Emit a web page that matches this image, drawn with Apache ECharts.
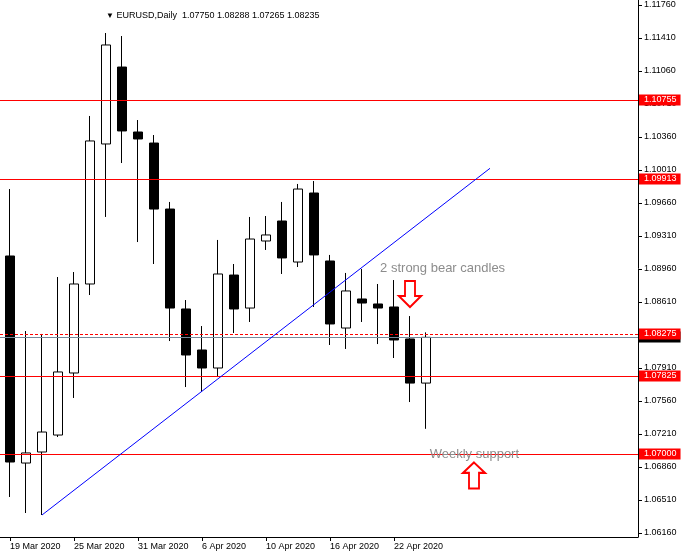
<!DOCTYPE html>
<html><head><meta charset="utf-8">
<script src="https://cdn.jsdelivr.net/npm/echarts@6/dist/echarts.min.js"></script>
<style>html,body{margin:0;padding:0;background:#fff}#c{width:683px;height:556px}</style>
</head><body><div id="c"></div>
<script>
const dates = ['19 Mar 2020','20 Mar 2020','23 Mar 2020','24 Mar 2020','25 Mar 2020','26 Mar 2020','27 Mar 2020',
  '30 Mar 2020','31 Mar 2020','1 Apr 2020','2 Apr 2020','3 Apr 2020','6 Apr 2020','7 Apr 2020','8 Apr 2020',
  '9 Apr 2020','10 Apr 2020','13 Apr 2020','14 Apr 2020','15 Apr 2020','16 Apr 2020','17 Apr 2020',
  '20 Apr 2020','21 Apr 2020','22 Apr 2020','23 Apr 2020','24 Apr 2020'];
const opens  = [1.09098,1.06902,1.07019,1.07199,1.07857,1.08801,1.10286,1.11102,1.10413,1.10296,1.09596,1.08536,1.08101,1.07910,1.08896,1.08546,1.09257,1.09469,1.09034,1.09766,1.09045,1.08334,1.08642,1.08589,1.08557,1.08218,1.07750];
const highs  = [1.09808,1.08302,1.08271,1.08875,1.08928,1.10583,1.11463,1.11431,1.10540,1.10381,1.09671,1.08631,1.08355,1.09268,1.09013,1.09512,1.09522,1.09671,1.09862,1.09893,1.09109,1.08918,1.08960,1.08801,1.08843,1.08461,1.08288];
const lows   = [1.06542,1.06372,1.06351,1.07178,1.07592,1.08684,1.09512,1.10084,1.09246,1.09013,1.08196,1.07708,1.07655,1.07814,1.08281,1.08398,1.09162,1.08907,1.08981,1.08557,1.08154,1.08112,1.08398,1.08164,1.08016,1.07549,1.07265];
const closes = [1.06913,1.07009,1.07231,1.07868,1.08801,1.10318,1.11336,1.10424,1.10339,1.09596,1.08546,1.08048,1.07910,1.08907,1.08536,1.09278,1.09321,1.09077,1.09808,1.09109,1.08377,1.08727,1.08599,1.08546,1.08207,1.07750,1.08235];
const priceTicks = [1.06160,1.06510,1.06860,1.07210,1.07560,1.07910,1.08260,1.08610,1.08960,1.09310,1.09660,1.10010,1.10360,1.10710,1.11060,1.11410,1.11760];
const dateTickIdx = [0,4,8,12,16,20,24];
const levels = [1.10755, 1.09913, 1.07825, 1.07000];
const dashedLevel = 1.08275;
const trendX = [2, 30];
const trendY = [1.06351, 1.10028];
const noteTexts = ['2 strong bear candles', 'Weekly support'];
const noteX = [23.1, 26.2];
const noteY = [1.0897, 1.0699];
const arrowDirs = ['down', 'up'];
const arrowX = [25, 29];
const arrowY = [1.08695, 1.0677];

const FONT = 'Liberation Sans';
const last = dates.length - 1;
const bid = closes[last];
const f5 = v => Number(v).toFixed(5);

const candles = dates.map((d, i) => [i, opens[i], closes[i], lows[i], highs[i]]);

const chart = echarts.init(document.getElementById('c'), null, {renderer: 'canvas'});

const lblStyle = (bg, v) => ({
  show: true, position: 'end', distance: 1, formatter: f5(v),
  color: '#fff', backgroundColor: bg, fontFamily: FONT, fontSize: 9,
  lineHeight: 11, padding: [0, 4, 0, 5]
});

// snap a price to a whole pixel row so the 1px level lines stay crisp
function snap(v) {
  const py = chart.convertToPixel({yAxisIndex: 0}, v);
  if (!isFinite(py)) return v;
  return chart.convertFromPixel({yAxisIndex: 0}, Math.round(py));
}

function levelLines(doSnap) {
  const s = v => doSnap ? snap(v) : v;
  return [
    {yAxis: s(bid), lineStyle: {color: '#778899', type: 'solid', width: 1}, label: lblStyle('#000', bid)},
    ...levels.map(v => ({yAxis: s(v), lineStyle: {color: '#ff0000', type: 'solid', width: 1}, label: lblStyle('#ff0000', v)})),
    {yAxis: s(dashedLevel), lineStyle: {color: '#ff0000', type: [3, 2], width: 1}, label: lblStyle('#ff0000', dashedLevel)}
  ];
}

const arrowPaths = {
  down: 'path://M6,0 L16,0 L16,15 L22,15 L11,26 L0,15 L6,15 Z',
  up: 'path://M11,0 L22,10 L16,10 L16,25 L6,25 L6,10 L0,10 Z'
};

const markPoints = [
  ...noteTexts.map((t, i) => ({
    coord: [noteX[i], noteY[i]], symbol: 'circle', symbolSize: 1,
    itemStyle: {color: 'rgba(0,0,0,0)'},
    label: {show: true, position: 'right', distance: 0, formatter: t, color: '#8c8c8c',
      fontFamily: FONT, fontSize: 13}
  })),
  ...arrowDirs.map((d, i) => ({
    coord: [arrowX[i], arrowY[i]], symbol: arrowPaths[d], symbolSize: [22, 26],
    itemStyle: {color: '#fff', borderColor: '#ff0000', borderWidth: 2},
    label: {show: false}
  }))
];

chart.setOption({
  animation: false,
  backgroundColor: '#fff',
  title: {
    left: 101, top: 6,
    text: '{t|▼} EURUSD,Daily  ' + [opens[last], highs[last], lows[last], closes[last]].map(f5).join(' '),
    textStyle: {fontFamily: FONT, fontSize: 9, fontWeight: 'normal', color: '#000',
      rich: {t: {fontSize: 8, color: '#000'}}}
  },
  grid: {left: 0, right: 45, top: 0, bottom: 19},
  xAxis: {
    type: 'value', min: -0.625, max: 39.25,
    splitLine: {show: false},
    axisLine: {show: true, onZero: false, lineStyle: {color: '#000', width: 1}},
    axisTick: {show: true, length: 4, lineStyle: {color: '#000'}, customValues: dateTickIdx},
    axisLabel: {show: true, customValues: dateTickIdx, formatter: v => dates[Math.round(v)],
      align: 'left', margin: 5, color: '#000', fontFamily: FONT, fontSize: 9}
  },
  yAxis: {
    type: 'value', position: 'right', min: 1.061176, max: 1.11813, scale: true,
    splitLine: {show: false},
    axisLine: {show: true, onZero: false, lineStyle: {color: '#000', width: 1}},
    axisTick: {show: true, length: 4, lineStyle: {color: '#000'}, customValues: priceTicks},
    axisLabel: {show: true, customValues: priceTicks, formatter: v => f5(v),
      margin: 6, color: '#000', fontFamily: FONT, fontSize: 9}
  },
  series: [
    {
      type: 'candlestick',
      data: candles,
      encode: {x: 0, y: [1, 2, 3, 4]},
      barWidth: 10,
      itemStyle: {color: '#fff', color0: '#000', borderColor: '#000', borderColor0: '#000',
        borderColorDoji: '#000', borderWidth: 1},
      silent: true
    },
    {
      id: 'trend',
      type: 'line',
      data: trendX.map((x, i) => [x, trendY[i]]),
      symbol: 'none',
      lineStyle: {color: '#0000ff', width: 1},
      silent: true,
      z: 5,
      markLine: {silent: true, symbol: 'none', precision: 12, animation: false, data: levelLines(false)},
      markPoint: {silent: true, animation: false, data: markPoints}
    }
  ]
});

chart.setOption({series: [{id: 'trend', markLine: {data: levelLines(true)}}]});
</script></body></html>
